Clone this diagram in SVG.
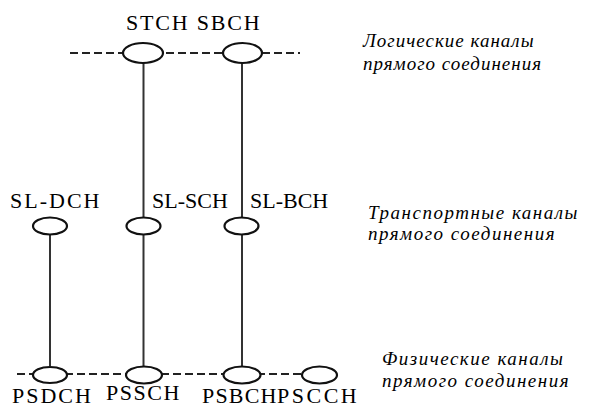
<svg xmlns="http://www.w3.org/2000/svg" width="598" height="407" viewBox="0 0 598 407">
<rect width="598" height="407" fill="#fff"/>
<g id="connectors" fill="none">
<g stroke="#222" stroke-width="2" stroke-dasharray="8 4">
<line x1="70" y1="53" x2="300" y2="53"/>
<line x1="17" y1="374" x2="302" y2="374"/>
</g>
<g stroke="#333" stroke-width="2">
<line x1="143.5" y1="63" x2="143.5" y2="217"/>
<line x1="143.5" y1="235" x2="143.5" y2="366"/>
<line x1="242" y1="63" x2="242" y2="217"/>
<line x1="242" y1="235" x2="242" y2="366"/>
<line x1="50" y1="235" x2="50" y2="366"/>
</g>
</g>
<g stroke="#111" stroke-width="2.2" fill="#fff">
<g id="STCH"><ellipse cx="143" cy="53" rx="20" ry="10"/></g>
<g id="SBCH"><ellipse cx="242.5" cy="53" rx="19.5" ry="10"/></g>
<g id="SL-DCH"><ellipse cx="50" cy="226" rx="17" ry="8.5"/></g>
<g id="SL-SCH"><ellipse cx="143.5" cy="226" rx="17" ry="8.5"/></g>
<g id="SL-BCH"><ellipse cx="241.5" cy="226" rx="17" ry="8.5"/></g>
<g id="PSDCH"><ellipse cx="50" cy="375" rx="17" ry="8"/></g>
<g id="PSSCH"><ellipse cx="144" cy="375" rx="18" ry="8.5"/></g>
<g id="PSBCH"><ellipse cx="242" cy="375" rx="18.5" ry="8.5"/></g>
<g id="PSCCH"><ellipse cx="319.5" cy="375" rx="17.5" ry="8.5"/></g>
</g>
<g id="labels">
<text x="126" y="30" font-family="Liberation Serif" font-size="22" letter-spacing="1.8">STCH SBCH</text>
<text x="10" y="208" font-family="Liberation Serif" font-size="22" letter-spacing="2">SL-DCH</text>
<text x="152" y="208" font-family="Liberation Serif" font-size="22">SL-SCH</text>
<text x="250" y="208" font-family="Liberation Serif" font-size="22">SL-BCH</text>
<text x="12" y="403" font-family="Liberation Serif" font-size="22" letter-spacing="2">PSDCH</text>
<text x="106" y="400" font-family="Liberation Serif" font-size="22" letter-spacing="1.5">PSSCH</text>
<text x="202" y="403" font-family="Liberation Serif" font-size="22" letter-spacing="1.2">PSBCH</text>
<text x="277" y="403" font-family="Liberation Serif" font-size="22" letter-spacing="2.5">PSCCH</text>
</g>
<g id="captions">
<text x="363" y="47" font-family="Liberation Serif" font-style="italic" font-size="19" letter-spacing="1">Логические каналы</text>
<text x="363" y="70" font-family="Liberation Serif" font-style="italic" font-size="19" letter-spacing="1">прямого соединения</text>
<text x="368" y="219" font-family="Liberation Serif" font-style="italic" font-size="19" letter-spacing="1.5">Транспортные каналы</text>
<text x="368" y="240" font-family="Liberation Serif" font-style="italic" font-size="19" letter-spacing="1.5">прямого соединения</text>
<text x="382" y="365" font-family="Liberation Serif" font-style="italic" font-size="19" letter-spacing="1.5">Физические каналы</text>
<text x="382" y="387" font-family="Liberation Serif" font-style="italic" font-size="19" letter-spacing="1.5">прямого соединения</text>
</g>
</svg>
